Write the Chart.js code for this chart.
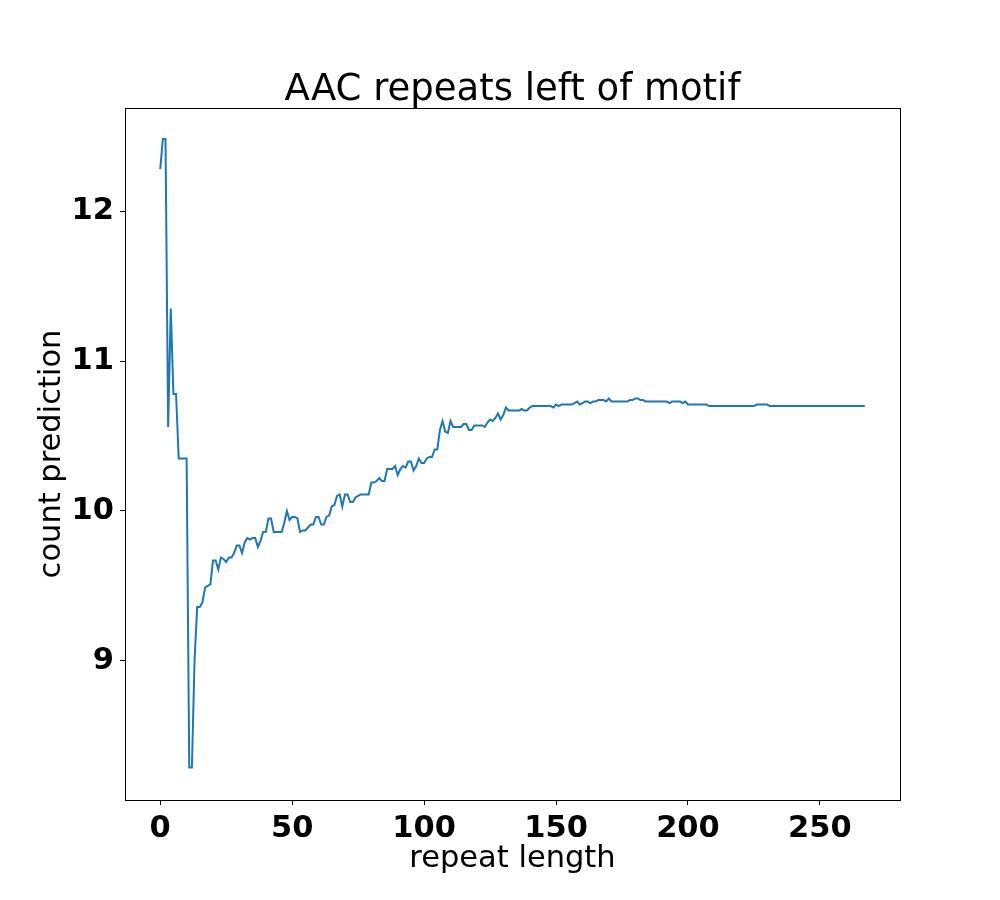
<!DOCTYPE html>
<html><head><meta charset="utf-8">
<script src="https://cdn.jsdelivr.net/npm/chart.js@4"></script>
<style>html,body{margin:0;padding:0;background:#fff}#wrap{width:1000px;height:900px}</style>
</head><body><div id="wrap"><canvas id="c" width="1000" height="900"></canvas></div>
<script>
const chartTitle = 'AAC repeats left of motif';
const xAxisLabel = 'repeat length';
const yAxisLabel = 'count prediction';
const xTicks = [0, 50, 100, 150, 200, 250];
const yTicks = [9, 10, 11, 12];

const repeatLength = [
  0,1,2,3,4,5,6,7,8,9,10,11,12,13,14,15,16,17,18,19,
  20,21,22,23,24,25,26,27,28,29,30,31,32,33,34,35,36,37,38,39,
  40,41,42,43,44,45,46,47,48,49,50,51,52,53,54,55,56,57,58,59,
  60,61,62,63,64,65,66,67,68,69,70,71,72,73,74,75,76,77,78,79,
  80,81,82,83,84,85,86,87,88,89,90,91,92,93,94,95,96,97,98,99,
  100,101,102,103,104,105,106,107,108,109,110,111,112,113,114,115,116,117,118,119,
  120,121,122,123,124,125,126,127,128,129,130,131,132,133,134,135,136,137,138,139,
  140,141,142,143,144,145,146,147,148,149,150,151,152,153,154,155,156,157,158,159,
  160,161,162,163,164,165,166,167,168,169,170,171,172,173,174,175,176,177,178,179,
  180,181,182,183,184,185,186,187,188,189,190,191,192,193,194,195,196,197,198,199,
  200,201,202,203,204,205,206,207,208,209,210,211,212,213,214,215,216,217,218,219,
  220,221,222,223,224,225,226,227,228,229,230,231,232,233,234,235,236,237,238,239,
  240,241,242,243,244,245,246,247,248,249,250,251,252,253,254,255,256,257,258,259,
  260,261,262,263,264,265,266,267
];

const countPrediction = [
  12.28, 12.48, 12.48, 10.56, 11.35, 10.78, 10.78, 10.35, 10.35, 10.35,
  10.35, 8.29, 8.29, 9.00, 9.36, 9.36, 9.39, 9.49, 9.50, 9.51,
  9.67, 9.67, 9.61, 9.69, 9.68, 9.66, 9.69, 9.69, 9.72, 9.77,
  9.77, 9.72, 9.79, 9.82, 9.81, 9.82, 9.82, 9.76, 9.80, 9.86,
  9.86, 9.95, 9.95, 9.86, 9.86, 9.86, 9.86, 9.92, 10.00, 9.94,
  9.96, 9.96, 9.95, 9.86, 9.87, 9.87, 9.89, 9.91, 9.91, 9.96,
  9.96, 9.91, 9.91, 9.96, 9.97, 10.03, 10.04, 10.10, 10.11, 10.03,
  10.11, 10.11, 10.06, 10.06, 10.09, 10.10, 10.11, 10.11, 10.11, 10.11,
  10.19, 10.19, 10.20, 10.22, 10.20, 10.20, 10.28, 10.28, 10.28, 10.30,
  10.24, 10.28, 10.30, 10.29, 10.33, 10.33, 10.27, 10.30, 10.35, 10.32,
  10.32, 10.35, 10.36, 10.36, 10.41, 10.41, 10.54, 10.60, 10.53, 10.52,
  10.60, 10.56, 10.56, 10.56, 10.56, 10.58, 10.58, 10.54, 10.54, 10.57,
  10.57, 10.57, 10.57, 10.56, 10.59, 10.61, 10.60, 10.62, 10.65, 10.61,
  10.64, 10.69, 10.67, 10.67, 10.67, 10.67, 10.67, 10.68, 10.67, 10.67,
  10.69, 10.70, 10.70, 10.70, 10.70, 10.70, 10.70, 10.70, 10.70, 10.69,
  10.71, 10.70, 10.71, 10.71, 10.71, 10.71, 10.71, 10.72, 10.73, 10.71,
  10.72, 10.73, 10.73, 10.72, 10.73, 10.73, 10.74, 10.74, 10.74, 10.73,
  10.75, 10.73, 10.73, 10.73, 10.73, 10.73, 10.73, 10.73, 10.74, 10.74,
  10.75, 10.75, 10.74, 10.74, 10.73, 10.73, 10.73, 10.73, 10.73, 10.73,
  10.73, 10.73, 10.73, 10.72, 10.73, 10.73, 10.73, 10.73, 10.72, 10.73,
  10.71, 10.71, 10.71, 10.71, 10.71, 10.71, 10.71, 10.71, 10.70, 10.70,
  10.70, 10.70, 10.70, 10.70, 10.70, 10.70, 10.70, 10.70, 10.70, 10.70,
  10.70, 10.70, 10.70, 10.70, 10.70, 10.70, 10.71, 10.71, 10.71, 10.71,
  10.71, 10.70, 10.70, 10.70, 10.70, 10.70, 10.70, 10.70, 10.70, 10.70,
  10.70, 10.70, 10.70, 10.70, 10.70, 10.70, 10.70, 10.70, 10.70, 10.70,
  10.70, 10.70, 10.70, 10.70, 10.70, 10.70, 10.70, 10.70, 10.70, 10.70,
  10.70, 10.70, 10.70, 10.70, 10.70, 10.70, 10.70, 10.70
];

const points = repeatLength.map((x, i) => ({ x: x, y: countPrediction[i] }));

const framePlugin = {
  id: 'frame',
  afterDraw(chart) {
    const { ctx, chartArea: a } = chart;
    ctx.save();
    ctx.strokeStyle = '#000';
    ctx.lineWidth = 1;
    ctx.strokeRect(Math.round(a.left) + 0.5, Math.round(a.top) + 0.5, Math.round(a.right - a.left), Math.round(a.bottom - a.top));
    ctx.fillStyle = '#000';
    ctx.font = 'normal 37px "DejaVu Sans"';
    ctx.textAlign = 'center';
    ctx.textBaseline = 'alphabetic';
    ctx.fillText(chartTitle, (a.left + a.right) / 2, a.top - 8);
    ctx.restore();
  }
};

const tickFont = { family: 'DejaVu Sans', size: 30.5, weight: 'bold' };
const labelFont = { family: 'DejaVu Sans', size: 30.5, weight: 'normal' };

new Chart(document.getElementById('c'), {
  type: 'line',
  data: {
    datasets: [{
      data: points,
      borderColor: '#1f77b4',
      borderWidth: 2,
      pointRadius: 0,
      tension: 0,
      fill: false
    }]
  },
  options: {
    responsive: false,
    animation: false,
    devicePixelRatio: 1,
    layout: { padding: { left: 0, right: 100, top: 108, bottom: 0 } },
    plugins: {
      legend: { display: false },
      tooltip: { enabled: false },
      title: { display: false }
    },
    scales: {
      x: {
        type: 'linear',
        min: -13.35,
        max: 280.35,
        afterBuildTicks: s => { s.ticks = xTicks.map(v => ({ value: v })); },
        afterFit: s => { s.height = 100; },
        ticks: { font: tickFont, color: '#000', padding: 6, maxRotation: 0, autoSkip: false },
        grid: { drawOnChartArea: false, drawTicks: true, tickLength: 5, color: '#000', lineWidth: 1 },
        border: { display: false },
        title: { display: true, text: xAxisLabel, color: '#000', font: labelFont, padding: { top: 0, bottom: 23 } }
      },
      y: {
        type: 'linear',
        min: 8.073,
        max: 12.687,
        afterBuildTicks: s => { s.ticks = yTicks.map(v => ({ value: v })); },
        afterFit: s => { s.width = 125; },
        ticks: { font: tickFont, color: '#000', padding: 6, autoSkip: false },
        grid: { drawOnChartArea: false, drawTicks: true, tickLength: 5, color: '#000', lineWidth: 1 },
        border: { display: false },
        title: { display: true, text: yAxisLabel, color: '#000', font: labelFont, padding: { top: 34, bottom: 0 } }
      }
    }
  },
  plugins: [framePlugin]
});
</script>
</body></html>
